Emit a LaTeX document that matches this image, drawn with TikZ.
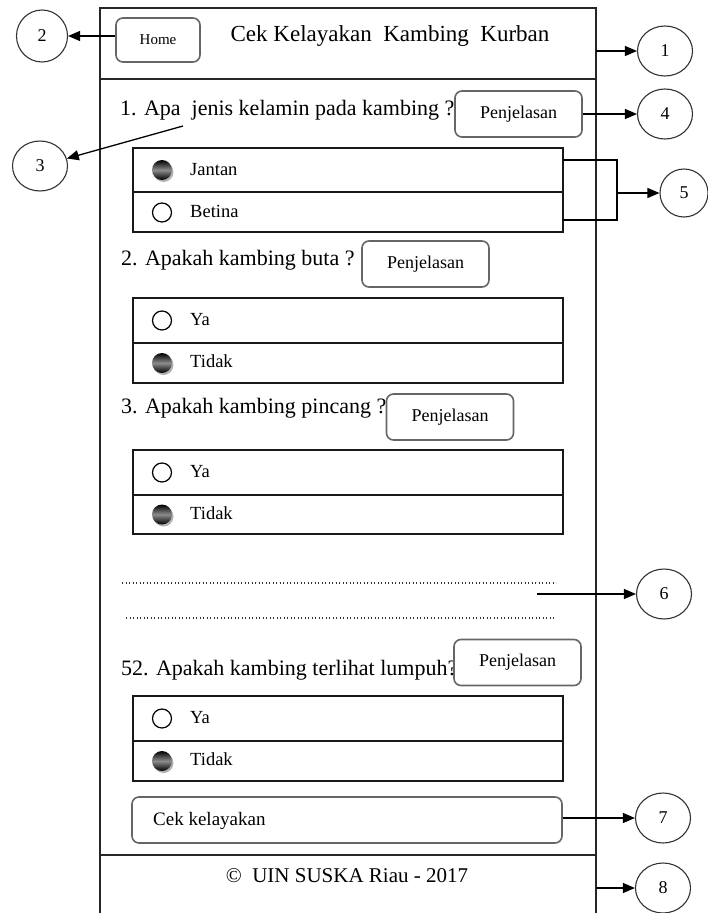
\documentclass[tikz,border=0pt]{standalone}
\usepackage{fontspec}
\setmainfont{Liberation Serif}
\usetikzlibrary{arrows.meta,shapes.geometric}

\begin{document}
\begin{tikzpicture}[x=1pt,y=-1pt,
  frameline/.style={line width=1.5pt, draw=black!85},
  btn/.style={draw=black!60, line width=1.6pt, rounded corners=7pt, fill=white, inner sep=0pt},
  penj/.style={btn, minimum width=127pt, minimum height=46pt, font=\fontsize{18}{20}\selectfont},
  optbox/.style={draw=black!90, line width=1.3pt},
  callout/.style={ellipse, draw=black!80, line width=1.1pt, minimum width=55pt, minimum height=50pt, inner sep=0pt, font=\fontsize{18}{20}\selectfont},
  pointer/.style={-{Triangle[length=12pt,width=10pt]}, line width=1.3pt},
  qtext/.style={anchor=base west, inner sep=0pt, font=\fontsize{22}{24}\selectfont},
  opttext/.style={anchor=base west, inner sep=0pt, font=\fontsize{18.5}{20}\selectfont},
  radiooff/.style={circle, draw=black, line width=1.2pt, minimum size=19pt, inner sep=0pt, fill=white},
  radioon/.style={circle, minimum size=20pt, inner sep=0pt, top color=black, bottom color=black, middle color=black!45},
  radioshadow/.style={circle, minimum size=20pt, inner sep=0pt, fill=black!30},
  ellipsis/.style={line width=1.3pt, draw=black!80, dash pattern=on 1.3pt off 2.2pt}
]
\useasboundingbox (0,0) rectangle (707,913);
\fill[white] (0,0) rectangle (707,913);

% page frame, header and footer bands
\draw[frameline] (100,913) -- (100,8) -- (596,8) -- (596,913);
\draw[frameline] (100,79) -- (596,79);
\draw[frameline] (100,855) -- (596,855);
\coordinate (hdrR) at (596,51);
\coordinate (ftrR) at (596,888);

% header
\node[btn, minimum width=84pt, minimum height=44pt, font=\fontsize{15}{16}\selectfont] (home) at (158,40) {Home};
\node[anchor=base, inner sep=0pt, font=\fontsize{23}{26}\selectfont] (title) at (390,41) {Cek Kelayakan\ \ Kambing\ \ Kurban};

% question 1
\node[qtext] (q1) at (120,115) {1. Apa\ \ jenis kelamin pada kambing ?};
\coordinate (q1pt) at (183,126);
\node[penj] (p1) at (518.5,114) {Penjelasan};
\draw[optbox] (133,148) rectangle (563,232);
\draw[optbox] (133,192) -- (563,192);
\node[radioshadow] at (163.5,172) {};
\node[radioon] (r1a) at (162,170) {};
\node[opttext] (l1a) at (190,175) {Jantan};
\node[radiooff] (r1b) at (162,212.5) {};
\node[opttext] (l1b) at (190,217) {Betina};

% question 2
\node[qtext] (q2) at (121,265) {2. Apakah kambing buta ?};
\node[penj] (p2) at (425.5,264) {Penjelasan};
\draw[optbox] (133,298) rectangle (563,383);
\draw[optbox] (133,343) -- (563,343);
\node[radiooff] (r2a) at (162,320.5) {};
\node[opttext] (l2a) at (190,325) {Ya};
\node[radioshadow] at (163.5,365) {};
\node[radioon] (r2b) at (162,363) {};
\node[opttext] (l2b) at (190,367.5) {Tidak};

% question 3
\node[qtext] (q3) at (121,413) {3. Apakah kambing pincang ?};
\node[penj] (p3) at (450,417) {Penjelasan};
\draw[optbox] (133,450) rectangle (563,534);
\draw[optbox] (133,495) -- (563,495);
\node[radiooff] (r3a) at (162,472.5) {};
\node[opttext] (l3a) at (190,477) {Ya};
\node[radioshadow] at (163.5,516.5) {};
\node[radioon] (r3b) at (162,514.5) {};
\node[opttext] (l3b) at (190,519) {Tidak};

% omitted questions
\draw[ellipsis] (122,583) -- (556,583);
\draw[ellipsis] (126,618) -- (556,618);
\coordinate (gap) at (537,594);

% question 52
\node[qtext] (q52) at (121,675) {52. Apakah kambing terlihat lumpuh?};
\node[penj] (p52) at (517.5,662.5) {Penjelasan};
\draw[optbox] (133,696) rectangle (563,781);
\draw[optbox] (133,741) -- (563,741);
\node[radiooff] (r4a) at (162,718.5) {};
\node[opttext] (l4a) at (190,723) {Ya};
\node[radioshadow] at (163.5,763) {};
\node[radioon] (r4b) at (162,761) {};
\node[opttext] (l4b) at (190,765.5) {Tidak};

% submit button
\node[btn, minimum width=430pt, minimum height=46pt] (cek) at (347,820) {};
\node[anchor=base west, inner sep=0pt, font=\fontsize{19}{20}\selectfont] (cektxt) at (153,825) {Cek kelayakan};

% footer
\node[anchor=base, inner sep=0pt, font=\fontsize{21}{24}\selectfont] (foot) at (347,882) {\textcopyright\ \ UIN SUSKA Riau - 2017};

% numbered callouts
\node[callout] (c1) at (665,51) {1};
\node[callout, minimum width=51pt, minimum height=52pt] (c2) at (42,36) {2};
\node[callout] (c3) at (40,166) {3};
\node[callout] (c4) at (665,114) {4};
\node[callout, minimum width=48pt, minimum height=48pt] (c5) at (684,193) {5};
\node[callout] (c6) at (664,594) {6};
\node[callout] (c7) at (663,818) {7};
\node[callout] (c8) at (663,888) {8};

% pointers
\draw[pointer] (hdrR) -- (c1);
\draw[pointer] (home.west |- c2) -- (c2);
\draw[pointer] (q1pt) -- (c3);
\draw[pointer] (p1.east) -- (c4);
\draw[line width=1.3pt] (563,160) -- (617,160) -- (617,220) -- (563,220);
\coordinate (brk) at (617,193);
\draw[pointer] (brk) -- (c5);
\draw[pointer] (gap) -- (c6);
\draw[pointer] (cek.east |- c7) -- (c7);
\draw[pointer] (ftrR) -- (c8);
\end{tikzpicture}
\end{document}
